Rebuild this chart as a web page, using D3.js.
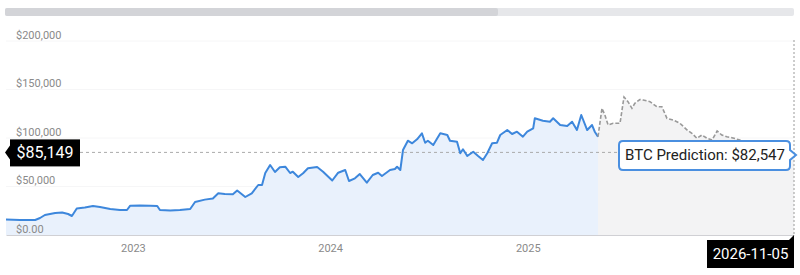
<!DOCTYPE html>
<html>
<head>
<meta charset="utf-8">
<script src="https://cdn.jsdelivr.net/npm/d3@7"></script>
<style>
  html, body { margin: 0; padding: 0; background: #fff; }
  svg { display: block; font-family: Roboto, "Noto Sans", sans-serif; }
</style>
</head>
<body>
<svg id="chart" width="800" height="275"></svg>
<script>
// ---- Data ----
const historyDates = ["2022-05-11","2022-06-06","2022-07-04","2022-07-13","2022-07-22","2022-08-10","2022-08-23","2022-09-03","2022-09-10","2022-09-19","2022-10-04","2022-10-19","2022-11-01","2022-11-20","2022-12-08","2022-12-21","2022-12-27","2023-01-14","2023-02-02","2023-02-15","2023-02-20","2023-03-11","2023-03-29","2023-04-17","2023-04-26","2023-05-14","2023-05-29","2023-06-08","2023-06-20","2023-07-05","2023-07-13","2023-07-28","2023-08-09","2023-08-21","2023-08-28","2023-09-03","2023-09-12","2023-09-21","2023-09-30","2023-10-10","2023-10-19","2023-10-24","2023-11-03","2023-11-12","2023-11-21","2023-12-08","2023-12-19","2024-01-05","2024-01-16","2024-01-29","2024-02-05","2024-02-16","2024-02-25","2024-03-09","2024-03-20","2024-03-30","2024-04-06","2024-04-21","2024-04-30","2024-05-04","2024-05-10","2024-05-15","2024-05-24","2024-06-01","2024-06-10","2024-06-19","2024-06-25","2024-06-30","2024-07-10","2024-07-23","2024-08-05","2024-08-10","2024-08-23","2024-08-29","2024-09-03","2024-09-11","2024-09-22","2024-10-01","2024-10-10","2024-10-18","2024-10-27","2024-11-05","2024-11-11","2024-11-24","2024-12-03","2024-12-12","2024-12-23","2024-12-31","2025-01-11","2025-01-14","2025-01-29","2025-02-11","2025-02-17","2025-03-02","2025-03-15","2025-03-24","2025-04-02","2025-04-10","2025-04-21","2025-04-30","2025-05-05","2025-05-11"];
const historyPrices = [15980,15460,15460,17530,20620,22680,23200,21650,19590,27320,28350,29900,28870,26800,25770,25770,30200,30410,30200,29900,25770,25260,25770,26800,34020,36460,37630,42990,42270,41960,45870,39170,42990,51550,51550,63920,72160,64950,69790,70410,63920,65260,59790,63610,68760,70100,65260,56180,64220,67010,55670,58450,62880,53920,61850,64220,60820,67010,68040,70410,67010,87630,97210,94530,98660,104840,95150,97210,92780,104840,103090,97210,96180,84220,88350,81440,85870,81440,77320,84220,94530,95150,103090,108240,104120,106490,101340,106490,110000,120310,117830,116800,120310,113400,112370,116800,108240,123710,108240,113400,106490,101340];

const predictionDates = ["2025-05-11","2025-05-22","2025-05-30","2025-06-08","2025-06-22","2025-07-11","2025-07-22","2025-08-02","2025-08-13","2025-08-21","2025-09-04","2025-09-13","2025-10-02","2025-10-21","2025-11-04","2025-11-18","2025-12-05","2025-12-24","2026-01-13","2026-01-26","2026-02-09","2026-02-23","2026-03-09","2026-03-23","2026-04-06","2026-04-19","2026-05-03","2026-05-17","2026-06-08","2026-08-03","2026-09-27","2026-11-05"];
const predictionPrices = [101340,130620,123710,113400,115150,115150,142260,137420,130620,135770,139690,139170,137420,132260,132260,120310,118550,115150,108240,104840,99690,103090,99690,97940,107210,103090,101340,100300,97940,92780,87630,82547];

const yTickValues = [0, 50000, 100000, 150000, 200000];
const yTickLabels = ["$0.00", "$50,000", "$100,000", "$150,000", "$200,000"];
const xTickLabels = ["2023", "2024", "2025"];
const currentPrice = 85149;
const predictedPrice = 82547;
const predictionLabel = "BTC Prediction: ";
const endDateLabel = "2026-11-05";

// ---- Setup ----
const parse = d3.timeParse("%Y-%m-%d");
const history = historyDates.map((d, i) => ({ date: parse(d), value: historyPrices[i] }));
const prediction = predictionDates.map((d, i) => ({ date: parse(d), value: predictionPrices[i] }));

const svg = d3.select("#chart");
const M = { left: 6, right: 794, top: 41, bottom: 235, split: 598 };

const x = d3.scaleTime()
  .domain([history[0].date, history[history.length - 1].date, prediction[prediction.length - 1].date])
  .range([M.left, M.split, M.right]);
const y = d3.scaleLinear().domain([0, 200000]).range([M.bottom, M.top]);

// Scrollbar at top
svg.append("rect").attr("x", 5).attr("y", 8).attr("width", 789).attr("height", 8)
  .attr("rx", 2).attr("fill", "#e6e7ea");
svg.append("rect").attr("x", 5).attr("y", 8).attr("width", 493).attr("height", 8)
  .attr("rx", 2).attr("fill", "#d3d4d8");

// Gridlines
svg.append("g").selectAll("line").data(yTickValues.slice(1)).join("line")
  .attr("x1", M.left).attr("x2", M.right)
  .attr("y1", d => y(d)).attr("y2", d => y(d))
  .attr("stroke", "#f6f6f7").attr("stroke-width", 1);

// Areas
const area = d3.area().x(d => x(d.date)).y0(y(0)).y1(d => y(d.value));
svg.append("path").datum(history).attr("d", area).attr("fill", "#e9f1fc");
svg.append("path").datum(prediction).attr("d", area).attr("fill", "#f3f3f4");

// Baseline axis
const xAxis = d3.axisBottom(x)
  .tickValues(xTickLabels.map(s => parse(s + "-01-01")))
  .tickFormat(d3.timeFormat("%Y"))
  .tickSize(0).tickPadding(9);
const gx = svg.append("g").attr("transform", `translate(0,${M.bottom})`).call(xAxis);
gx.select(".domain").attr("stroke", "#d0d0d4");
gx.selectAll("text").attr("fill", "#8a8a8a").attr("font-size", 11)
  .attr("font-family", "Roboto, sans-serif");

// Y labels
const yAxis = d3.axisRight(y).tickValues(yTickValues)
  .tickFormat((d, i) => yTickLabels[i]).tickSize(0).tickPadding(0);
const gy = svg.append("g").attr("transform", `translate(16,0)`).call(yAxis);
gy.select(".domain").remove();
gy.selectAll("text").attr("fill", "#8a8a8a").attr("font-size", 11)
  .attr("font-family", "Roboto, sans-serif").attr("dy", "-0.25em");

// Current price dashed line
svg.append("line").attr("x1", 80).attr("x2", M.right)
  .attr("y1", y(currentPrice)).attr("y2", y(currentPrice))
  .attr("stroke", "#aaaaaa").attr("stroke-width", 1).attr("stroke-dasharray", "3,3");

// Vertical dashed line at end
svg.append("line").attr("x1", M.right).attr("x2", M.right)
  .attr("y1", M.top - 1).attr("y2", M.bottom)
  .attr("stroke", "#9a9a9a").attr("stroke-width", 1).attr("stroke-dasharray", "2,2");

// Lines
const line = d3.line().x(d => x(d.date)).y(d => y(d.value));
svg.append("path").datum(history).attr("d", line)
  .attr("fill", "none").attr("stroke", "#3d87dc").attr("stroke-width", 2)
  .attr("stroke-linejoin", "round");
svg.append("path").datum(prediction).attr("d", line)
  .attr("fill", "none").attr("stroke", "#999999").attr("stroke-width", 1.6)
  .attr("stroke-dasharray", "4,2");

// Left price label
const cy = y(currentPrice);
svg.append("path")
  .attr("d", `M10,${cy - 7} L5,${cy} L10,${cy + 7} Z`)
  .attr("fill", "#000");
svg.append("rect").attr("x", 10).attr("y", cy - 13).attr("width", 70).attr("height", 27)
  .attr("fill", "#000");
svg.append("text").attr("x", 45).attr("y", cy + 1).attr("text-anchor", "middle")
  .attr("dominant-baseline", "middle").attr("fill", "#fff").attr("font-size", 16)
  .text(d3.format("$,")(currentPrice));

// Prediction tooltip
const py = y(predictedPrice);
const tip = svg.append("g");
tip.append("path")
  .attr("d", `M623,141 H786 Q790,141 790,145 V${py - 5} L796,${py} L790,${py + 5} V166 Q790,170 786,170 H623 Q619,170 619,166 V145 Q619,141 623,141 Z`)
  .attr("fill", "#fff").attr("stroke", "#4a8fe0").attr("stroke-width", 2);
tip.append("text").attr("x", 705).attr("y", 156).attr("text-anchor", "middle")
  .attr("dominant-baseline", "middle").attr("fill", "#222").attr("font-size", 15)
  .text(predictionLabel + d3.format("$,")(predictedPrice));

// End date label
svg.append("path").attr("d", `M789,240 L794,235 L794,240 Z`).attr("fill", "#000");
svg.append("rect").attr("x", 707).attr("y", 240).attr("width", 87).attr("height", 28)
  .attr("fill", "#000");
svg.append("text").attr("x", 750.5).attr("y", 255).attr("text-anchor", "middle")
  .attr("dominant-baseline", "middle").attr("fill", "#fff").attr("font-size", 15)
  .text(endDateLabel);
</script>
</body>
</html>
